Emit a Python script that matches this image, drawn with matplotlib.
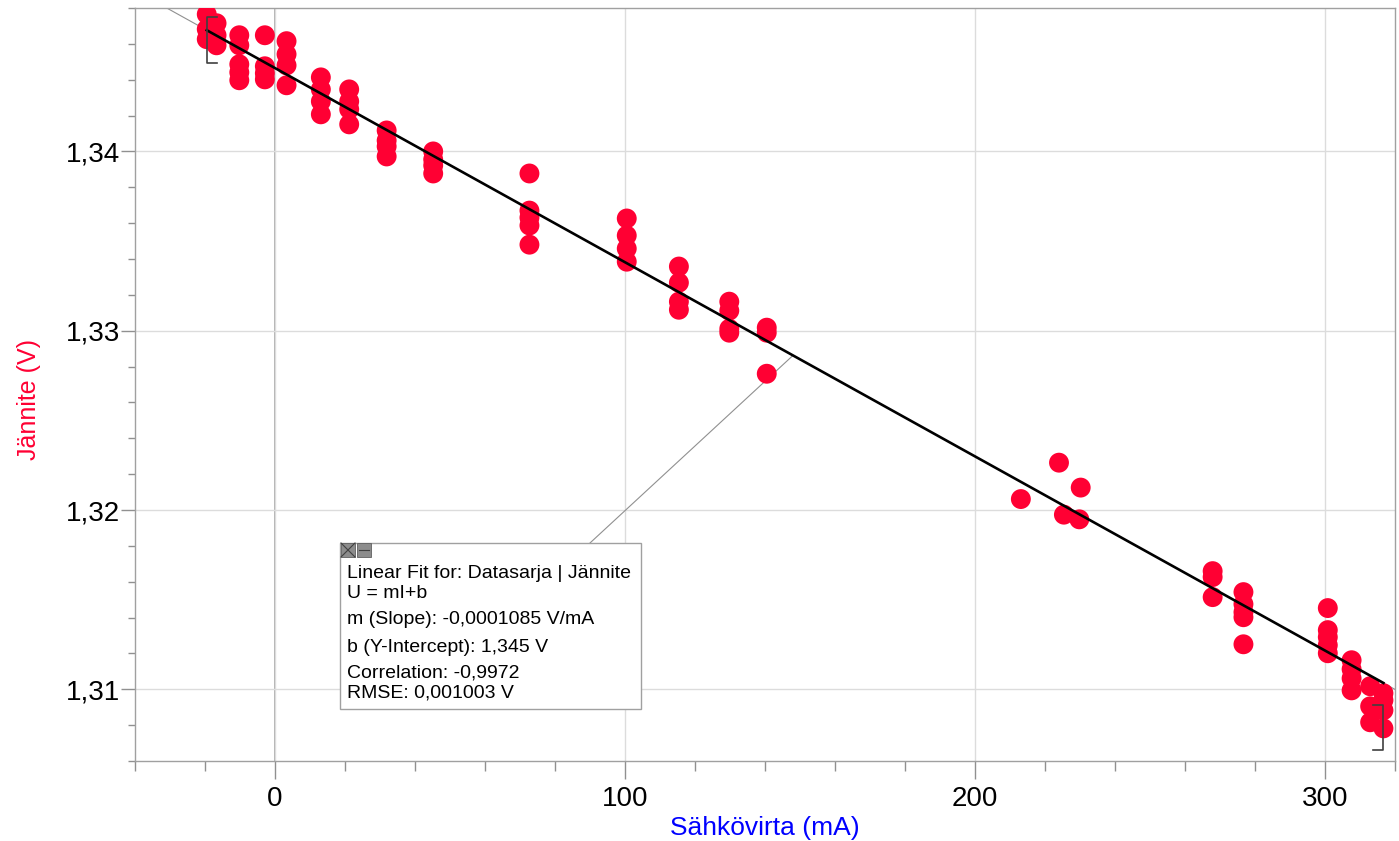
import numpy as np
import matplotlib
matplotlib.use("Agg")
import matplotlib.pyplot as plt
from matplotlib.ticker import MultipleLocator, FuncFormatter
from matplotlib.patches import Rectangle

# mitattu data (mA, V)
current_mA = [
    -19.5, -19.5, -19.5,
    -16.7, -16.7, -16.7,
    -10.2, -10.2, -10.2, -10.2, -10.2,
    -2.9, -2.9, -2.9, -2.9,
    3.3, 3.3, 3.3, 3.3,
    13.1, 13.1, 13.1, 13.1,
    21.2, 21.2, 21.2, 21.2,
    31.9, 31.9, 31.9, 31.9,
    45.2, 45.2, 45.2, 45.2,
    72.7, 72.7, 72.7, 72.7, 72.7,
    100.5, 100.5, 100.5, 100.5,
    115.4, 115.4, 115.4, 115.4,
    129.8, 129.8, 129.8, 129.8,
    140.5, 140.5, 140.5,
    213.1, 224.0, 230.2, 225.4, 229.8,
    267.9, 267.9, 267.9,
    276.7, 276.7, 276.7, 276.7, 276.7,
    300.8, 300.8, 300.8, 300.8, 300.8,
    307.6, 307.6, 307.6, 307.6,
    312.9, 312.9, 312.9,
    316.7, 316.7, 316.7, 316.7,
]
voltage_V = [
    1.34765, 1.34682, 1.34626,
    1.34715, 1.34648, 1.34592,
    1.34648, 1.34592, 1.34486, 1.34441, 1.34397,
    1.34648, 1.34475, 1.34436, 1.34402,
    1.34615, 1.34542, 1.34480, 1.34369,
    1.34413, 1.34346, 1.34279, 1.34207,
    1.34346, 1.34279, 1.34235, 1.34151,
    1.34117, 1.34061, 1.34028, 1.33972,
    1.34000, 1.33955, 1.33922, 1.33877,
    1.33877, 1.33670, 1.33631, 1.33587, 1.33480,
    1.33626, 1.33531, 1.33458, 1.33385,
    1.33358, 1.33268, 1.33162, 1.33117,
    1.33162, 1.33112, 1.33011, 1.32989,
    1.33017, 1.32989, 1.32760,
    1.32061, 1.32264, 1.32125, 1.31974, 1.31948,
    1.31659, 1.31626, 1.31514,
    1.31542, 1.31475, 1.31430, 1.31402, 1.31251,
    1.31453, 1.31330, 1.31291, 1.31246, 1.31201,
    1.31162, 1.31112, 1.31061, 1.30994,
    1.31017, 1.30905, 1.30816,
    1.30978, 1.30939, 1.30883, 1.30782,
]

# sovitus (Logger Pro)
fit_slope = -0.0001083
fit_intercept = 1.34465
fit_lines = [
    "Linear Fit for: Datasarja | Jännite",
    "U = mI+b",
    "m (Slope): -0,0001085 V/mA",
    "b (Y-Intercept): 1,345 V",
    "Correlation: -0,9972",
    "RMSE: 0,001003 V",
]

x_ticks = [0, 100, 200, 300]
y_ticks = [1.31, 1.32, 1.33, 1.34]

RED = "#ff0033"
plt.rcParams["font.family"] = ["Liberation Sans", "DejaVu Sans"]

fig = plt.figure(figsize=(13.99, 8.41), dpi=100)
ax = fig.add_axes([135 / 1399, 1 - 761 / 841, 1260 / 1399, 753 / 841])

ax.set_xlim(-40, 320)
ax.set_ylim(1.306, 1.348)

ax.grid(which="major", color="#dcdcdc", lw=1.0, zorder=0)
ax.axvline(0, color="#a8a8a8", lw=1.3, zorder=1)

x = np.array(current_mA)
y = np.array(voltage_V)
ax.scatter(x, y, s=205, color=RED, edgecolors="none", zorder=3)

# sovitussuora + jatkeet
x0, x1 = x.min(), x.max()
xf = np.array([x0, x1])
ax.plot(xf, fit_slope * xf + fit_intercept, color="black", lw=1.9, zorder=4)
for a, b in [(-40, x0), (x1, 320)]:
    xe = np.array([a, b])
    ax.plot(xe, fit_slope * xe + fit_intercept, color="#909090", lw=0.8, zorder=2)

# hakasulkeet
ax.plot([x0 + 3, x0, x0, x0 + 3], [1.34749, 1.34749, 1.34492, 1.34492],
        color="#404040", lw=1.2, zorder=5)
ax.plot([x1 - 3, x1, x1, x1 - 3], [1.30911, 1.30911, 1.30659, 1.30659],
        color="#404040", lw=1.2, zorder=5)

# viiva laatikosta suoralle
ax.plot([90, 148], [1.31816, fit_slope * 148 + fit_intercept],
        color="#909090", lw=0.8, zorder=2)

ax.xaxis.set_major_locator(plt.FixedLocator(x_ticks))
ax.xaxis.set_minor_locator(MultipleLocator(20))
ax.yaxis.set_major_locator(plt.FixedLocator(y_ticks))
ax.yaxis.set_minor_locator(MultipleLocator(0.002))
ax.xaxis.set_major_formatter(FuncFormatter(lambda v, p: f"{v:.0f}"))
ax.yaxis.set_major_formatter(FuncFormatter(lambda v, p: f"{v:.2f}".replace(".", ",")))

ax.tick_params(axis="x", which="major", length=13, width=1, color="#909090",
               labelsize=20, labelcolor="black", pad=5)
ax.tick_params(axis="x", which="minor", length=7, width=1, color="#909090")
ax.tick_params(axis="y", which="major", length=10, width=1, color="#909090",
               labelsize=20, labelcolor="black", pad=1)
ax.tick_params(axis="y", which="minor", length=5, width=1, color="#909090")

for s in ax.spines.values():
    s.set_color("#a0a0a0")
    s.set_linewidth(1.0)

ax.set_xlabel("Sähkövirta (mA)", color="#0000ff", fontsize=19)
ax.xaxis.set_label_coords((765 - 135) / 1260, (761 - 828) / 753)
ax.set_ylabel("Jännite (V)", color=RED, fontsize=18)
ax.yaxis.set_label_coords((29 - 135) / 1260, (761 - 399) / 753)
ax.xaxis.label.set_va("center")
ax.yaxis.label.set_va("center")

# tulosruutu
bx0, by0 = 340 / 1399, 1 - 709 / 841
bw, bh = 301 / 1399, 166 / 841
fig.patches.append(Rectangle((bx0, by0), bw, bh, transform=fig.transFigure,
                             facecolor="white", edgecolor="#a0a0a0", lw=1.0, zorder=10))
for i, sym in enumerate(["x", "-"]):
    ix = (341 + i * 16) / 1399
    iy = 1 - 557 / 841
    fig.patches.append(Rectangle((ix, iy), 14 / 1399, 14 / 841, transform=fig.transFigure,
                                 facecolor="#8c8c8c", edgecolor="#606060", lw=0.6, zorder=11))
    if sym == "x":
        fig.lines.append(plt.Line2D([ix, ix + 14 / 1399], [iy, iy + 14 / 841],
                                    transform=fig.transFigure, color="#404040", lw=0.8, zorder=12))
        fig.lines.append(plt.Line2D([ix, ix + 14 / 1399], [iy + 14 / 841, iy],
                                    transform=fig.transFigure, color="#404040", lw=0.8, zorder=12))
    else:
        fig.lines.append(plt.Line2D([ix + 2 / 1399, ix + 12 / 1399], [iy + 7 / 841, iy + 7 / 841],
                                    transform=fig.transFigure, color="#404040", lw=0.8, zorder=12))

line_y = [573, 593, 619, 647, 673, 693]
for txt, ly in zip(fit_lines, line_y):
    fig.text(347 / 1399, 1 - ly / 841, txt, fontsize=14, color="black",
             va="center", ha="left", zorder=13)

fig.savefig("out.png", dpi=100)
